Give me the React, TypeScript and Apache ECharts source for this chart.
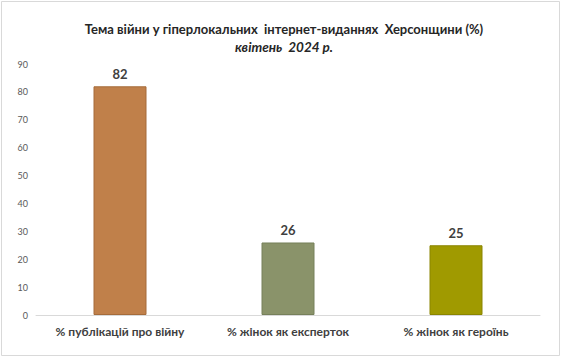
import React, { useEffect, useRef } from "react";
import * as echarts from "echarts";

const categories = ["% публікацій про війну", "% жінок як експерток", "% жінок як героїнь"];
const values = [82, 26, 25];
const barColors = ["#C0804A", "#8A936A", "#A09A00"];
const barBorders = ["#A56B3A", "#76805A", "#8A8500"];
const titleLine1 = "Тема війни у гіперлокальних  інтернет-виданнях  Херсонщини (%)";
const titleLine2 = "квітень  2024 р.";

export default function App() {
  const ref = useRef<HTMLDivElement>(null);
  useEffect(() => {
    if (!ref.current) return;
    const chart = echarts.init(ref.current, null, { renderer: "svg" });
    chart.setOption({
      animation: false,
      backgroundColor: "#ffffff",
      textStyle: { fontFamily: "Lato" },
      graphic: [
        {
          type: "rect",
          shape: { x: 1.5, y: 1.5, width: 558, height: 354 },
          style: { fill: "none", stroke: "#D9D9D9", lineWidth: 1 },
          silent: true,
        },
      ],
      title: {
        text: titleLine1,
        subtext: titleLine2,
        left: 279,
        textAlign: "center",
        top: 17,
        itemGap: 5,
        textStyle: { fontFamily: "Lato", fontSize: 13, fontWeight: "bold", color: "#262626" },
        subtextStyle: { fontFamily: "Lato", fontSize: 13.5, fontWeight: "bold", fontStyle: "italic", color: "#262626" },
      },
      grid: { left: 36, right: 22, top: 64, bottom: 43, containLabel: false },
      xAxis: {
        type: "category",
        data: categories,
        axisLine: { show: true, lineStyle: { color: "#D9D9D9" } },
        axisTick: { show: false },
        axisLabel: { fontFamily: "Lato", fontSize: 12, fontWeight: "bold", color: "#404040", margin: 10 },
      },
      yAxis: {
        type: "value",
        min: 0,
        max: 90,
        interval: 10,
        axisLine: { show: false },
        axisTick: { show: false },
        splitLine: { show: false },
        axisLabel: { fontFamily: "Lato", fontSize: 9, color: "#595959", margin: 8 },
      },
      series: [
        {
          type: "bar",
          barWidth: 53,
          data: values.map((v, i) => ({
            value: v,
            itemStyle: { color: barColors[i], borderColor: barBorders[i], borderWidth: 1 },
          })),
          label: {
            show: true,
            position: "top",
            distance: 6,
            fontFamily: "Lato",
            fontSize: 13,
            fontWeight: "bold",
            color: "#404040",
          },
        },
      ],
    });
    return () => chart.dispose();
  }, []);
  return <div ref={ref} style={{ position: "fixed", left: 0, top: 0, width: 562, height: 358 }} />;
}
